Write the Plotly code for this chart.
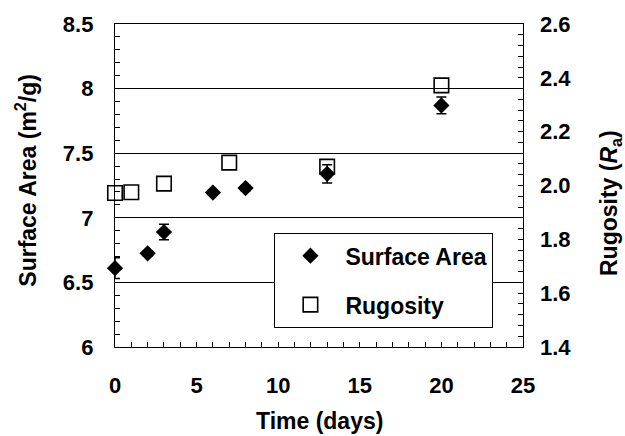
import plotly.graph_objects as go

days_sa = [0, 2, 3, 6, 8, 13, 20]
surface_area = [6.61, 6.725, 6.89, 7.195, 7.23, 7.34, 7.87]
sa_err = [0.08, 0.02, 0.06, 0.02, 0.02, 0.07, 0.065]

days_rug = [0, 1, 3, 7, 13, 20]
rugosity = [1.972, 1.975, 2.007, 2.085, 2.07, 2.372]

FONT = "Liberation Sans"

fig = go.Figure()
fig.add_trace(go.Scatter(
    x=days_sa, y=surface_area, mode="markers", name="Surface Area",
    legendgroup="a", cliponaxis=False,
    marker=dict(symbol="diamond", size=12.5, color="black", line=dict(width=0)),
    error_y=dict(type="data", array=sa_err, color="black", thickness=1.5, width=5),
    yaxis="y"))
fig.add_trace(go.Scatter(
    x=days_rug, y=rugosity, mode="markers", name="Rugosity",
    legendgroup="b", cliponaxis=False,
    marker=dict(symbol="square-open", size=14.5, color="black", line=dict(width=1.6)),
    yaxis="y2"))

tickfont = dict(family=FONT, size=22, color="black", weight="bold")
fig.update_layout(
    width=625, height=436,
    margin=dict(l=115, r=102, t=21, b=89),
    paper_bgcolor="white", plot_bgcolor="white",
    showlegend=True,
    legend=dict(x=0.39, y=0.353, xanchor="left", yanchor="top",
                bgcolor="white", bordercolor="black", borderwidth=1.3,
                font=dict(family=FONT, size=23, color="black", weight="bold"),
                tracegroupgap=16, itemwidth=60),
    xaxis=dict(range=[0, 25], dtick=5, tick0=0, ticks="inside", ticklen=5,
               tickcolor="black", showgrid=False, zeroline=False,
               showline=True, linecolor="black", linewidth=1.3, mirror=True,
               tickfont=tickfont, ticklabelstandoff=18,
               minor=dict(dtick=1, ticks="inside", ticklen=5, tickcolor="black", showgrid=False)),
    yaxis=dict(range=[6, 8.5], dtick=0.5, tick0=6, ticks="inside", ticklen=5,
               tickcolor="black", showgrid=True, gridcolor="black", gridwidth=1,
               zeroline=False, showline=True, linecolor="black", linewidth=1.3,
               mirror=True, tickfont=tickfont, tickformat="~g", ticklabelstandoff=16,
               minor=dict(dtick=0.1, ticks="inside", ticklen=5, tickcolor="black", showgrid=False)),
    yaxis2=dict(range=[1.4, 2.6], dtick=0.2, tick0=1.4, ticks="inside", ticklen=5,
                tickcolor="black", showgrid=False, zeroline=False,
                overlaying="y", side="right", tickfont=tickfont, tickformat=".1f",
                showline=False, ticklabelstandoff=16,
                minor=dict(dtick=0.04, ticks="inside", ticklen=5, tickcolor="black", showgrid=False)),
)

titlefont = dict(family=FONT, size=23, color="black", weight="bold")
fig.add_annotation(text="Time (days)", xref="paper", yref="paper", x=0.5, y=-0.23,
                   xanchor="center", yanchor="middle", showarrow=False, font=titlefont)
fig.add_annotation(text="Surface Area (m<sup>2</sup>/g)", xref="paper", yref="paper",
                   x=-0.218, y=0.515, xanchor="center", yanchor="middle", textangle=-90,
                   showarrow=False, font=titlefont)
fig.add_annotation(text="Rugosity (<i>R</i><sub>a</sub>)", xref="paper", yref="paper",
                   x=1.215, y=0.445, xanchor="center", yanchor="middle", textangle=-90,
                   showarrow=False, font=titlefont)

fig.write_html("out.html")
